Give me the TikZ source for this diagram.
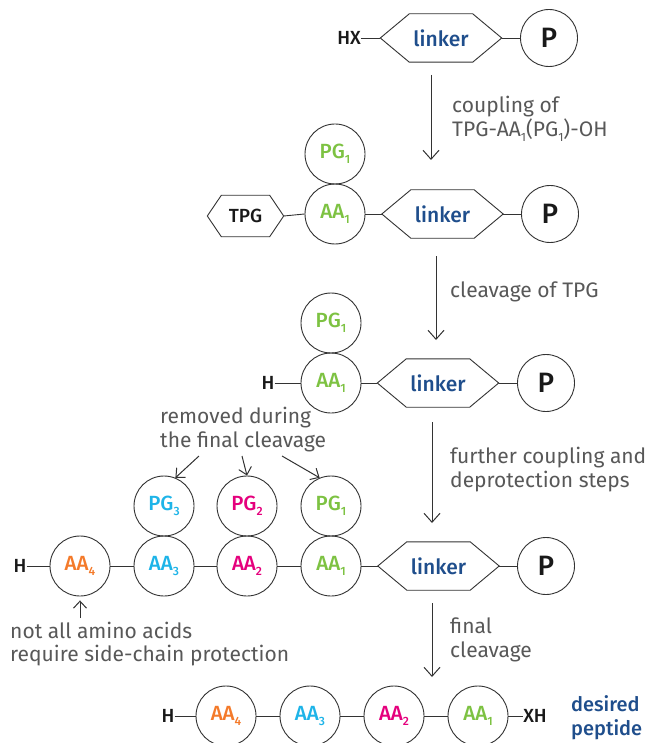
\documentclass[tikz,border=0pt]{standalone}
\usepackage{fontspec}
\setmainfont{Fira Sans}[BoldFont=* Medium]
\usetikzlibrary{arrows.meta}
\definecolor{inkgray}{HTML}{333333}
\definecolor{labelgray}{HTML}{585858}
\definecolor{linkblue}{HTML}{1F4E8C}
\definecolor{aaone}{HTML}{7DC242}
\definecolor{aatwo}{HTML}{E5007D}
\definecolor{aathree}{HTML}{1EB4E8}
\definecolor{aafour}{HTML}{F47A2A}
\newcommand\subidx[1]{\raisebox{-5pt}{\fontsize{12}{12}\selectfont #1}}
% hexagonal frame around a rectangular body node: #1 name, #2 tip length
\newcommand\hexframe[2]{%
  \coordinate (#1-w) at ([xshift=-#2]#1.west);
  \coordinate (#1-e) at ([xshift=#2]#1.east);
  \draw[hexline] (#1.north west) -- (#1.north east) -- (#1-e) -- (#1.south east)
    -- (#1.south west) -- (#1-w) -- cycle;}
\begin{document}
\begin{tikzpicture}[x=1pt,y=-1pt,
  bead/.style={circle, draw=inkgray, line width=0.9pt, minimum size=60pt, inner sep=0pt,
    font=\fontsize{20.5}{20.5}\selectfont\bfseries},
  resin/.style={circle, draw=inkgray, line width=0.9pt, minimum size=57pt, inner sep=0pt,
    text=black!90, font=\fontsize{28}{28}\selectfont\bfseries},
  hexline/.style={draw=inkgray, line width=0.9pt},
  linkbody/.style={rectangle, minimum width=63pt, minimum height=48pt, inner sep=0pt,
    text=linkblue, font=\fontsize{21}{21}\selectfont\bfseries},
  tpgbody/.style={rectangle, minimum width=48pt, minimum height=41pt, inner sep=0pt,
    text=black!90, font=\fontsize{19}{19}\selectfont\bfseries},
  bond/.style={draw=inkgray, line width=0.9pt},
  termtxt/.style={inner sep=0pt, text=black!90, font=\fontsize{19}{19}\selectfont\bfseries},
  note/.style={anchor=west, inner sep=0pt, align=left, text=labelgray,
    font=\fontsize{21}{23.5}\selectfont},
  steparrow/.style={draw=inkgray, line width=1pt, -{Straight Barb[length=9pt,width=16pt]}},
  hintarrow/.style={draw=inkgray, line width=1pt, -{Straight Barb[length=7pt,width=13pt]}}
]
\clip (0,0) rectangle (649,743);
\fill[white] (0,0) rectangle (649,743);

% ---- row 1: HX-linker-P
\node[termtxt] (hx) at (349,38) {HX};
\node[linkbody] (l1) at (441,38) {linker};
\hexframe{l1}{29pt}
\node[resin] (p1) at (549,38) {P};
\draw[bond] (hx.east) -- (l1-w);
\draw[bond] (l1-e) -- (p1.west);

% ---- row 2: TPG-AA1(PG1)-linker-P
\node[tpgbody] (tpg) at (245.5,216) {TPG};
\hexframe{tpg}{14pt}
\node[bead, text=aaone] (b2a1) at (335,214) {AA\subidx{1}};
\node[bead, text=aaone] (b2g1) at (335,154) {PG\subidx{1}};
\node[linkbody] (l2) at (442.5,214) {linker};
\hexframe{l2}{29pt}
\node[resin] (p2) at (550,214) {P};
\draw[bond] (tpg-e) -- (b2a1.west);
\draw[bond] (b2a1.east) -- (l2-w);
\draw[bond] (l2-e) -- (p2.west);

% ---- row 3: H-AA1(PG1)-linker-P
\node[termtxt] (h3) at (268,383) {H};
\node[bead, text=aaone] (b3a1) at (331,383) {AA\subidx{1}};
\node[bead, text=aaone] (b3g1) at (331,323) {PG\subidx{1}};
\node[linkbody] (l3) at (438,383) {linker};
\hexframe{l3}{29pt}
\node[resin] (p3) at (546,383) {P};
\draw[bond] (h3.east) -- (b3a1.west);
\draw[bond] (b3a1.east) -- (l3-w);
\draw[bond] (l3-e) -- (p3.west);

% ---- row 4: protected tetrapeptide on the resin
\node[termtxt] (h4) at (20,566) {H};
\node[bead, text=aafour] (b4a4) at (80,566) {AA\subidx{4}};
\node[bead, text=aathree] (b4a3) at (164,566) {AA\subidx{3}};
\node[bead, text=aatwo] (b4a2) at (247,566) {AA\subidx{2}};
\node[bead, text=aaone] (b4a1) at (331,566) {AA\subidx{1}};
\node[bead, text=aathree] (b4g3) at (164,506) {PG\subidx{3}};
\node[bead, text=aatwo] (b4g2) at (247,506) {PG\subidx{2}};
\node[bead, text=aaone] (b4g1) at (331,506) {PG\subidx{1}};
\node[linkbody] (l4) at (438.5,566) {linker};
\hexframe{l4}{29pt}
\node[resin] (p4) at (546,566) {P};
\draw[bond] (h4.east) -- (b4a4.west);
\draw[bond] (b4a4.east) -- (b4a3.west);
\draw[bond] (b4a3.east) -- (b4a2.west);
\draw[bond] (b4a2.east) -- (b4a1.west);
\draw[bond] (b4a1.east) -- (l4-w);
\draw[bond] (l4-e) -- (p4.west);

% ---- row 5: free peptide
\node[termtxt] (h5) at (168,716) {H};
\node[bead, text=aafour] (b5a4) at (226,716) {AA\subidx{4}};
\node[bead, text=aathree] (b5a3) at (310,716) {AA\subidx{3}};
\node[bead, text=aatwo] (b5a2) at (394,716) {AA\subidx{2}};
\node[bead, text=aaone] (b5a1) at (478,716) {AA\subidx{1}};
\node[termtxt] (xh5) at (535,716) {XH};
\draw[bond] (h5.east) -- (b5a4.west);
\draw[bond] (b5a4.east) -- (b5a3.west);
\draw[bond] (b5a3.east) -- (b5a2.west);
\draw[bond] (b5a2.east) -- (b5a1.west);
\draw[bond] (b5a1.east) -- (xh5.west);
\node[note, text=linkblue, font=\fontsize{20}{23.5}\selectfont\bfseries] (pep) at (571,717.5) {desired\\peptide};

% ---- reaction steps
\coordinate (s1a) at (431,75);  \coordinate (s1b) at (431,160);
\coordinate (s2a) at (436,256); \coordinate (s2b) at (436,340);
\coordinate (s3a) at (432,422); \coordinate (s3b) at (432,523);
\coordinate (s4a) at (432,603); \coordinate (s4b) at (432,677);
\draw[steparrow] (s1a) -- (s1b);
\draw[steparrow] (s2a) -- (s2b);
\draw[steparrow] (s3a) -- (s3b);
\draw[steparrow] (s4a) -- (s4b);
\node[note] (t1) at (452,119) {coupling of\\TPG-AA\subidx{1}(PG\subidx{1})-OH};
\node[note] (t2) at (450,292) {cleavage of TPG};
\node[note] (t3) at (450,469.5) {further coupling and\\deprotection steps};
\node[note] (t4) at (450,640) {final\\cleavage};

% ---- side remarks
\node[note] (rem) at (160,429.5) {removed during\\the final cleavage};
\coordinate (r3) at (199,456);
\coordinate (r2) at (242,456);
\coordinate (r1) at (282,456);
\draw[hintarrow] (r3) -- (b4g3.68);
\draw[hintarrow] (r2) -- (b4g2.north);
\draw[hintarrow] (r1) -- (b4g1.112);
\node[note] (nap) at (10,644) {not all amino acids\\require side-chain protection};
\coordinate (u4) at (80,618);
\draw[hintarrow] (u4) -- ([yshift=-4pt]b4a4.south);
\end{tikzpicture}
\end{document}
